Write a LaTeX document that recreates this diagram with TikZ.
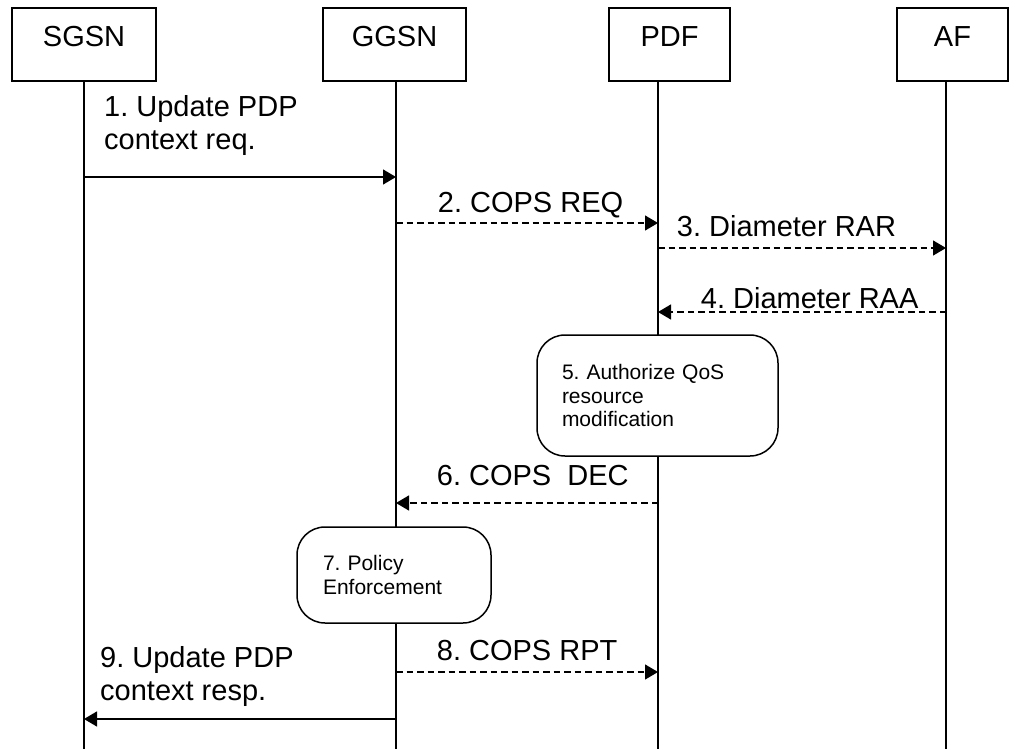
\documentclass[tikz,border=0pt]{standalone}
\usepackage{fontspec}
\setmainfont{Liberation Sans}
\usetikzlibrary{arrows.meta}
\frenchspacing

\tikzset{
	entity/.style={draw, line width=1.5pt, inner sep=0pt, text height=38.7pt, text depth=34.3pt, font=\fontsize{29}{33}\selectfont},
	action/.style={draw, fill=white, line width=1.5pt, rounded corners=28pt, inner sep=0pt, align=left, font=\fontsize{21}{23.5}\selectfont},
	lifeline/.style={line width=1.2pt},
	msg/.style={line width=1.3pt, -{Triangle[length=13pt,width=15pt]}},
	reply/.style={msg, dash pattern=on 6.5pt off 4pt},
	lbl/.style={anchor=base west, inner sep=0pt, align=left, font=\fontsize{29}{33}\selectfont},
}

\begin{document}
\begin{tikzpicture}[x=1pt, y=-1pt]
	\useasboundingbox (0,0) rectangle (1010,749);

	% entities
	\path
		(84,46.7)    node[entity, anchor=base, minimum width=144pt] (sgsn) {SGSN}
		(394.5,46.7) node[entity, anchor=base, minimum width=143pt] (ggsn) {GGSN}
		(669.5,46.7) node[entity, anchor=base, minimum width=121pt] (pdf)  {PDF}
		(952.5,46.7) node[entity, anchor=base, minimum width=111pt] (af)   {AF}
	;

	% lifelines
	\path
		(84,749)  coordinate (sgsn-end)
		(396,749) coordinate (ggsn-end)
		(658,749) coordinate (pdf-end)
		(946,749) coordinate (af-end)
	;
	\draw[lifeline]
		(sgsn.south -| sgsn-end) -- (sgsn-end)
		(ggsn.south -| ggsn-end) -- (ggsn-end)
		(pdf.south -| pdf-end)   -- (pdf-end)
		(af.south -| af-end)     -- (af-end)
	;

	\node[action, minimum width=241pt, minimum height=121pt, text width=191pt] (auth) at (657.5,395.5) {5. Authorize QoS\\resource\\modification};
	\node[action, minimum width=194pt, minimum height=96pt, text width=142pt] (enf) at (394,575) {7. Policy\\Enforcement};

	% messages
	\path
		(84,177)  coordinate (s1)  (396,177) coordinate (g1)
		(396,223) coordinate (g2)  (658,223) coordinate (p2)
		(658,248) coordinate (p3)  (946,248) coordinate (a3)
		(946,312) coordinate (a4)  (658,312) coordinate (p4)
		(658,503) coordinate (p6)  (396,503) coordinate (g6)
		(396,672) coordinate (g8)  (658,672) coordinate (p8)
		(396,719) coordinate (g9)  (84,719)  coordinate (s9)
	;
	\draw[msg]   (s1) -- (g1);
	\draw[reply] (g2) -- (p2);
	\draw[reply] (p3) -- (a3);
	\draw[reply] (a4) -- (p4);
	\draw[reply] (p6) -- (g6);
	\draw[reply] (g8) -- (p8);
	\draw[msg]   (g9) -- (s9);

	% labels (base = last line)
	\path
		(104,150)     node[lbl] (l1) {1. Update PDP\\context req.}
		(437.7,212.7) node[lbl] (l2) {2. COPS REQ}
		(676.7,236.7) node[lbl] (l3) {3. Diameter RAR}
		(700.7,308.3) node[lbl] (l4) {4. Diameter RAA}
		(436.7,485)   node[lbl] (l6) {6. COPS\ \ DEC}
		(436.7,660.5) node[lbl] (l8) {8. COPS RPT}
		(100,700)     node[lbl] (l9) {9. Update PDP\\context resp.}
	;
\end{tikzpicture}
\end{document}
